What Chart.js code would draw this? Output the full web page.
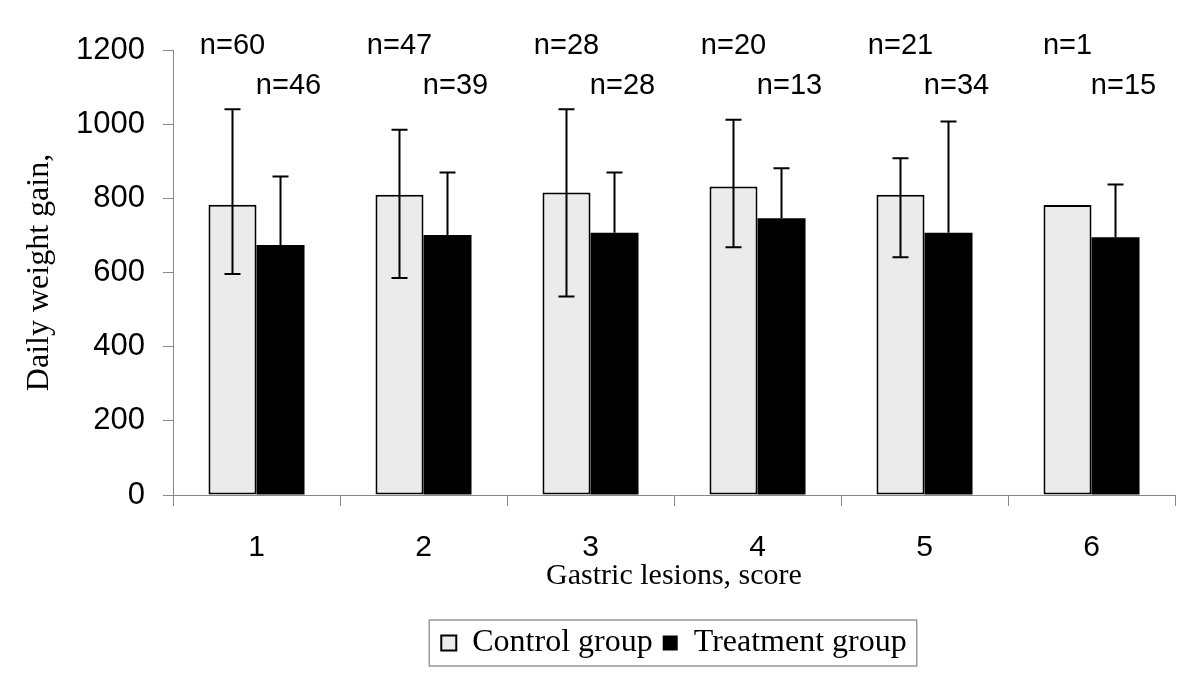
<!DOCTYPE html>
<html>
<head>
<meta charset="utf-8">
<title>Daily weight gain by gastric lesion score</title>
<script src="https://cdn.jsdelivr.net/npm/chart.js@4.4.1/dist/chart.umd.min.js"></script>
<style>
  html, body { margin: 0; padding: 0; background: #fff; }
  canvas { display: block; }
</style>
</head>
<body>
<canvas id="weightChart" width="1200" height="687"></canvas>
<script>
// ================= DATA =================

const scores = ["1", "2", "3", "4", "5", "6"];

const controlMean = [783, 810, 816, 832, 810, 782];
const controlHigh = [1040, 985, 1040, 1012, 908, null];
const controlLow = [596, 585, 535, 668, 641, null];
const controlN = [60, 47, 28, 20, 21, 1];

const treatmentMean = [674, 701, 707, 746, 707, 695];
const treatmentHigh = [859, 870, 870, 881, 1007, 837];
const treatmentN = [46, 39, 28, 13, 34, 15];

const yTicks = [0, 200, 400, 600, 800, 1000, 1200];

// ================= PLUGINS =================

// error bars (high / low whiskers with caps)
const errorBars = {
  id: "errorBars",
  afterDatasetsDraw(chart) {
    const ctx = chart.ctx;
    const y = chart.scales.y;
    const sets = [
      { meta: chart.getDatasetMeta(0), high: controlHigh, low: controlLow },
      { meta: chart.getDatasetMeta(1), high: treatmentHigh, low: null }
    ];
    ctx.save();
    ctx.strokeStyle = "#000";
    ctx.lineWidth = 2;
    sets.forEach(s => {
      s.meta.data.forEach((bar, i) => {
        const cap = 8;
        const hi = s.high[i];
        const lo = s.low ? s.low[i] : null;
        if (hi == null) return;
        const top = y.getPixelForValue(hi);
        const bottom = lo == null ? bar.y : y.getPixelForValue(lo);
        ctx.beginPath();
        ctx.moveTo(bar.x, top);
        ctx.lineTo(bar.x, bottom);
        ctx.moveTo(bar.x - cap, top);
        ctx.lineTo(bar.x + cap, top);
        if (lo != null) {
          ctx.moveTo(bar.x - cap, bottom);
          ctx.lineTo(bar.x + cap, bottom);
        }
        ctx.stroke();
      });
    });
    ctx.restore();
  }
};

// n= labels above each group
const nLabels = {
  id: "nLabels",
  afterDraw(chart) {
    const ctx = chart.ctx;
    const y = chart.scales.y;
    ctx.save();
    ctx.fillStyle = "#000";
    ctx.font = "29px 'Liberation Sans'";
    ctx.textAlign = "center";
    ctx.textBaseline = "middle";
    chart.getDatasetMeta(0).data.forEach((bar, i) => {
      ctx.fillText("n=" + controlN[i], bar.x, y.getPixelForValue(1211));
    });
    chart.getDatasetMeta(1).data.forEach((bar, i) => {
      ctx.fillText("n=" + treatmentN[i], bar.x + 8, y.getPixelForValue(1103));
    });
    ctx.restore();
  }
};

// frame round the legend
const legendFrame = {
  id: "legendFrame",
  afterDraw(chart) {
    const boxes = chart.legend.legendHitBoxes;
    if (!boxes || !boxes.length) return;
    const first = boxes[0];
    const last = boxes[boxes.length - 1];
    const ctx = chart.ctx;
    ctx.save();
    ctx.strokeStyle = "#999";
    ctx.lineWidth = 1.5;
    ctx.strokeRect(first.left - 12, first.top - 7, last.left + last.width - first.left + 22, first.height + 14);
    ctx.restore();
  }
};

// ================= CHART =================

Chart.defaults.font.family = "'Liberation Sans'";
Chart.defaults.color = "#000";

const ctx = document.getElementById("weightChart").getContext("2d");
const weightChart = new Chart(ctx, {
  type: "bar",
  data: {
    labels: scores,
    datasets: [
      {
        label: "Control group",
        data: controlMean,
        backgroundColor: "#ebebeb",
        borderColor: "#000",
        borderWidth: 2,
        borderSkipped: false
      },
      {
        label: "Treatment group",
        data: treatmentMean,
        backgroundColor: "#000",
        borderWidth: 0
      }
    ]
  },
  options: {
    responsive: false,
    animation: false,
    devicePixelRatio: 1,
    categoryPercentage: 0.575,
    barPercentage: 1.0,
    layout: { padding: { top: 50, right: 25, bottom: 18, left: 0 } },
    plugins: {
      tooltip: { enabled: false },
      legend: {
        position: "bottom",
        fullSize: false,
        labels: {
          boxWidth: 15,
          boxHeight: 15,
          padding: 10,
          color: "#000",
          font: { family: "'Liberation Serif'", size: 32 }
        }
      }
    },
    scales: {
      x: {
        afterFit: s => { s.height = 122; },
        border: { color: "#888", width: 1 },
        grid: { display: true, drawOnChartArea: false, tickLength: 11, color: "#888", offset: true },
        ticks: { padding: 24, font: { size: 30 } },
        title: {
          display: true,
          text: "Gastric lesions, score",
          font: { family: "'Liberation Serif'", size: 30 },
          padding: { top: 0, bottom: 23 }
        }
      },
      y: {
        min: 0,
        max: 1200,
        afterFit: s => { s.width = 173; },
        afterBuildTicks: s => { s.ticks = yTicks.map(v => ({ value: v })); },
        border: { color: "#888", width: 1 },
        grid: { display: true, drawOnChartArea: false, tickLength: 10, color: "#888" },
        ticks: { padding: 18, font: { size: 31 }, callback: v => String(v) },
        title: {
          display: true,
          text: "Daily weight gain,",
          font: { family: "'Liberation Serif'", size: 32 },
          padding: { top: 20, bottom: 0 }
        }
      }
    }
  },
  plugins: [errorBars, nLabels, legendFrame]
});
</script>
</body>
</html>
